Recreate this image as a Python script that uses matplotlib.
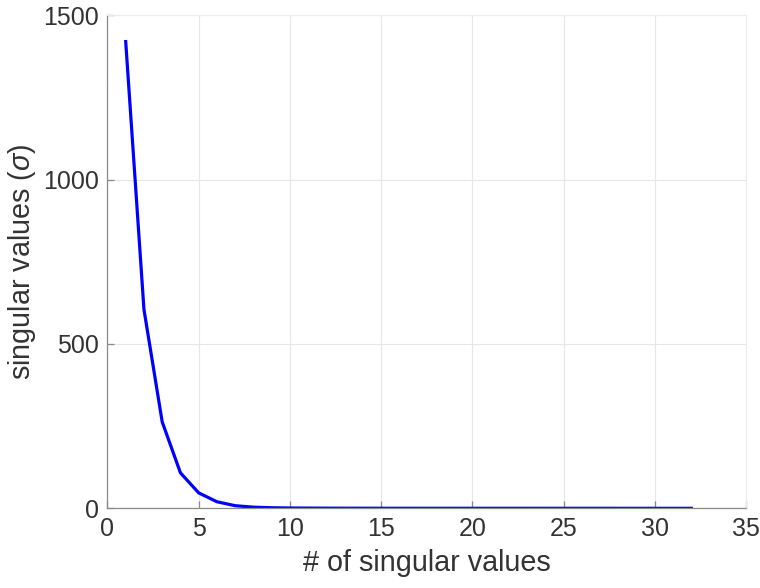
import matplotlib
matplotlib.use("Agg")
import matplotlib.pyplot as plt
import numpy as np

# singular values
idx = np.arange(1, 33)
sv = [1420, 605, 263, 108, 47, 20, 8, 3.5, 1.8, 1.0,
      0.7, 0.5, 0.4, 0.3, 0.25, 0.2, 0.18, 0.15, 0.13, 0.12,
      0.1, 0.09, 0.08, 0.07, 0.06, 0.05, 0.05, 0.04, 0.04, 0.03,
      0.03, 0.02]

xticks = [0, 5, 10, 15, 20, 25, 30, 35]
yticks = [0, 500, 1000, 1500]

plt.rcParams['font.family'] = ['Liberation Sans', 'DejaVu Sans']
plt.rcParams['mathtext.fontset'] = 'custom'
plt.rcParams['mathtext.it'] = 'Liberation Sans:italic'

fig = plt.figure(figsize=(7.6, 5.88), dpi=100)
ax = fig.add_axes([0.1414, 0.1355, 0.8402, 0.8385])

ax.plot(idx, sv, color='#0000ff', linewidth=2.3)

ax.set_xlim(0, 35)
ax.set_ylim(0, 1500)
ax.set_xticks(xticks)
ax.set_yticks(yticks)
ax.grid(True, color='#e6e6e6', linewidth=0.8)
ax.set_axisbelow(True)

for s in ['left', 'bottom']:
    ax.spines[s].set_color('#8a8a8a')
    ax.spines[s].set_linewidth(0.9)
for s in ['top', 'right']:
    ax.spines[s].set_color('#ececec')
    ax.spines[s].set_linewidth(0.8)

ax.tick_params(direction='in', length=5, width=0.9, color='#8a8a8a',
               labelsize=18, labelcolor='#333333', pad=6)

ax.set_xlabel('# of singular values', fontsize=20.7, color='#333333', labelpad=6)
ax.set_ylabel(r'singular values ($\sigma$)', fontsize=20.7, color='#333333', labelpad=4)

fig.savefig('out.png', dpi=100)
